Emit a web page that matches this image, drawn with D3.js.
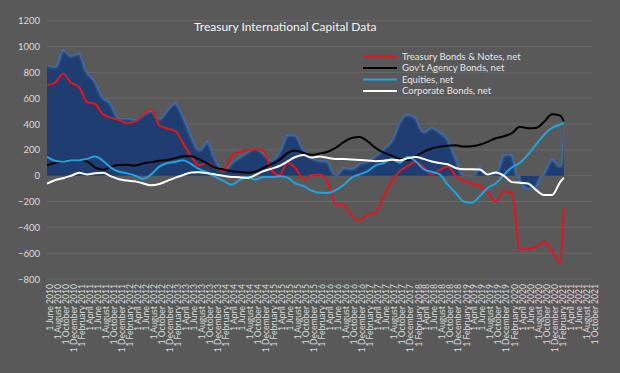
<!DOCTYPE html>
<html>
<head>
<meta charset="utf-8">
<script src="https://cdn.jsdelivr.net/npm/d3@7"></script>
<style>
  html, body { margin: 0; padding: 0; background: #595959; }
  svg { display: block; font-family: Lato, "Open Sans", sans-serif; }
</style>
</head>
<body>
<svg id="chart" width="620" height="373"></svg>
<script>
// values, one every two months from June 2010, last one March 2021
const treasury = [700, 720, 790, 720, 685, 570, 555, 475, 448, 430,
  405, 420, 480, 515, 390, 365, 345, 250, 150, 80,
  100, 65, 40, 150, 185, 200, 205, 195, 40, 5,
  100, 60, -25, 5, 10, -40, -220, -225, -310, -345,
  -300, -280, -160, -40, 35, 75, 105, 65, 10, 45,
  70, 0, -35, -60, -75, -130, -200, -120, -134, -571,
  -565, -550, -510, -580, -670, -250]
const agency = [80, 100, 110, 112, 122, 110, 65, 45, 70, 82,
  85, 78, 95, 105, 115, 122, 136, 150, 150, 126,
  95, 62, 48, 35, 28, 22, 30, 60, 90, 120,
  175, 195, 175, 162, 172, 185, 215, 260, 292, 300,
  265, 215, 178, 155, 130, 122, 150, 185, 210, 225,
  232, 235, 225, 228, 240, 262, 290, 305, 330, 378,
  368, 370, 415, 475, 465, 420]
const equities = [145, 115, 108, 118, 120, 130, 148, 115, 60, 30,
  18, 0, -25, 10, 70, 98, 108, 120, 90, 50,
  25, -10, -40, -70, -35, -10, -30, -10, -10, -5,
  -15, -60, -80, -115, -133, -134, -112, -72, -15, 10,
  35, 80, 98, 130, 100, 145, 110, 50, 30, 10,
  -70, -134, -200, -210, -160, -95, -60, 5, 65, 100,
  162, 240, 315, 370, 395, 411]
const corporate = [-62, -35, -20, 0, 22, 10, 18, 22, -5, -28,
  -38, -44, -60, -75, -65, -40, -15, 5, 25, 27,
  18, 10, 0, -10, -12, -18, 5, 35, 55, 75,
  110, 145, 160, 140, 148, 138, 130, 130, 125, 122,
  118, 112, 115, 124, 118, 135, 145, 130, 110, 98,
  88, 60, 50, 50, 48, 10, 25, 0, -50, -55,
  -60, -110, -150, -150, -50, -15]
// the dark blue area (total)
const total = [860, 850, 985, 935, 955, 810, 740, 615, 565, 450,
  450, 440, 480, 510, 445, 520, 570, 470, 320, 205,
  275, 140, 45, 105, 150, 190, 220, 180, 124, 195,
  320, 320, 215, 145, 124, 120, 10, 70, 60, 100,
  120, 160, 215, 280, 430, 480, 455, 345, 380, 345,
  290, 150, 5, 0, 70, 20, 30, 170, 170, -60,
  -110, -95, 30, 135, 80, 540]

const yTicks = [-800, -600, -400, -200, 0, 200, 400, 600, 800, 1000, 1200]

const series = [
  {name: "Treasury Bonds & Notes, net", values: treasury, color: "#e3161c"},
  {name: "Gov\u2019t Agency Bonds, net", values: agency, color: "#000000"},
  {name: "Equities, net", values: equities, color: "#22a3dc"},
  {name: "Corporate Bonds, net", values: corporate, color: "#ffffff"}
]

const dates = d3.range(65).map(k => new Date(2010, 5 + 2 * k, 1))
dates.push(new Date(2021, 2, 1))
const tickDates = d3.range(69).map(k => new Date(2010, 5 + 2 * k, 1))

const svg = d3.select("#chart")

const x = d3.scaleTime()
  .domain([new Date(2010, 5, 1), new Date(2021, 9, 1)])
  .range([47, 592])
const y = d3.scaleLinear().domain([-800, 1200]).range([279, 20.7])

// gridlines
svg.append("g")
  .selectAll("line")
  .data(yTicks)
  .join("line")
  .attr("x1", 47).attr("x2", 592)
  .attr("y1", d => y(d)).attr("y2", d => y(d))
  .attr("stroke", "#696969")
  .attr("stroke-width", 1)

// y axis labels
svg.append("g")
  .attr("transform", "translate(40,0)")
  .call(d3.axisLeft(y).tickValues(yTicks).tickFormat(d3.format("d")).tickSize(0).tickPadding(0))
  .call(g => g.select(".domain").remove())
  .call(g => g.selectAll("text")
    .attr("fill", "#d9d9d9")
    .attr("font-size", 9.5)
    .attr("font-family", "Lato, 'Open Sans', sans-serif"))

// x axis labels, rotated
svg.append("g")
  .attr("transform", "translate(0,284)")
  .call(d3.axisBottom(x).tickValues(tickDates).tickFormat(d3.timeFormat("%-d %B %Y")).tickSize(0))
  .call(g => g.select(".domain").remove())
  .call(g => g.selectAll("text")
    .attr("fill", "#d9d9d9")
    .attr("font-size", 8.6)
    .attr("font-family", "Lato, 'Open Sans', sans-serif")
    .attr("transform", "rotate(-90)")
    .attr("text-anchor", "end")
    .attr("x", 0)
    .attr("y", 0)
    .attr("dy", "0.6em"))

// area
const totalData = dates.map((d, i) => ({date: d, v: total[i]}))
const area = d3.area()
  .x(d => x(d.date))
  .y0(y(0))
  .y1(d => y(d.v))
  .curve(d3.curveMonotoneX)
const topLine = d3.line()
  .x(d => x(d.date))
  .y(d => y(d.v))
  .curve(d3.curveMonotoneX)

const defs = svg.append("defs")
defs.append("clipPath").attr("id", "areaClip")
  .append("path").attr("d", area(totalData))
defs.append("filter").attr("id", "soft")
  .append("feGaussianBlur").attr("stdDeviation", 1.3)

svg.append("path")
  .attr("d", area(totalData))
  .attr("fill", "#1f3d70")

svg.append("g")
  .attr("clip-path", "url(#areaClip)")
  .append("path")
  .attr("d", topLine(totalData))
  .attr("fill", "none")
  .attr("stroke", "#4a73ad")
  .attr("stroke-width", 4)
  .attr("filter", "url(#soft)")

// lines
const line = d3.line()
  .x((d, i) => x(dates[i]))
  .y(d => y(d))
  .curve(d3.curveMonotoneX)

svg.append("g")
  .selectAll("path")
  .data(series)
  .join("path")
  .attr("d", d => line(d.values))
  .attr("fill", "none")
  .attr("stroke", d => d.color)
  .attr("stroke-width", 2)
  .attr("stroke-linejoin", "round")

// title
svg.append("text")
  .attr("x", 194)
  .attr("y", 31)
  .attr("fill", "#f2f2f2")
  .attr("font-size", 12)
  .text("Treasury International Capital Data")

// legend
const legend = svg.append("g")
  .selectAll("g")
  .data(series)
  .join("g")
  .attr("transform", (d, i) => `translate(363,${56.3 + i * 11.6})`)
legend.append("line")
  .attr("x1", 0).attr("x2", 34)
  .attr("stroke", d => d.color)
  .attr("stroke-width", 2)
legend.append("text")
  .attr("x", 39)
  .attr("dy", "0.35em")
  .attr("fill", "#e6e6e6")
  .attr("font-size", 9.5)
  .text(d => d.name)
</script>
</body>
</html>
